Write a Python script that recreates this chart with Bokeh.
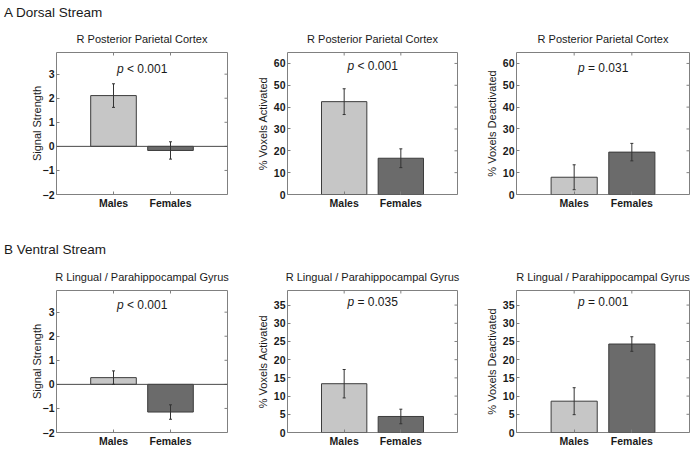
import math
from bokeh.plotting import figure
from bokeh.models import (Range1d, FixedTicker, Span, Whisker,
                          ColumnDataSource, Div, Label, TeeHead)
from bokeh.layouts import column, row
from bokeh.embed import file_html
from bokeh.resources import INLINE

# ---------------- data ----------------
groups = ["Males", "Females"]
bar_colors = ["#c6c6c6", "#6b6b6b"]

ss_dorsal = [2.11, -0.17]
ss_dorsal_err = [0.49, 0.36]
act_dorsal = [42.5, 16.6]
act_dorsal_err = [5.9, 4.3]
deact_dorsal = [7.9, 19.4]
deact_dorsal_err = [5.7, 4.0]

ss_ventral = [0.28, -1.15]
ss_ventral_err = [0.28, 0.30]
act_ventral = [13.4, 4.4]
act_ventral_err = [3.9, 2.0]
deact_ventral = [8.6, 24.3]
deact_ventral_err = [3.7, 2.0]

dorsal_title = "R Posterior Parietal Cortex"
ventral_title = "R Lingual / Parahippocampal Gyrus"
row_labels = ["A Dorsal Stream", "B Ventral Stream"]

y_labels = ["Signal Strength", "% Voxels Activated", "% Voxels Deactivated"]
ss_ticks = [-2, -1, 0, 1, 2, 3]
dorsal_pct_ticks = [0, 10, 20, 30, 40, 50, 60]
ventral_pct_ticks = [0, 5, 10, 15, 20, 25, 30, 35]
ss_range = (-2, 3.9)
dorsal_pct_range = (0, 65)
ventral_pct_range = (0, 39)

p_ops = ["<", "<", "=", "<", "=", "="]
p_vals = ["0.001", "0.001", "0.031", "0.001", "0.035", "0.001"]
p_ypos = [3.2, 59.0, 58.0, 3.3, 35.8, 35.8]

FONT = "Liberation Sans"
FRAME = "#808080"
TXT = "#1a1a1a"


def make_panel(title, vals, errs, ylabel, yrange, yticks, p_op, p_val, p_y,
               width, height, bl, br, bt, bb, lab_standoff):
    xs = [i + 1 for i in range(len(groups))]
    xmax = len(groups) + 1
    cx = xmax / 2
    p = figure(width=width, height=height, output_backend="svg",
               toolbar_location=None, x_range=Range1d(0, xmax),
               y_range=Range1d(*yrange),
               min_border_left=bl, min_border_right=br,
               min_border_top=bt, min_border_bottom=bb)
    p.background_fill_color = "white"
    p.border_fill_color = "white"
    p.outline_line_color = FRAME
    p.outline_line_width = 1
    p.xgrid.visible = False
    p.ygrid.visible = False

    p.title.text = title
    p.title.align = "center"
    p.title.vertical_align = "top"
    p.title.text_font = FONT
    p.title.text_font_size = "11px"
    p.title.text_font_style = "normal"
    p.title.text_color = TXT
    p.title.standoff = 11

    xa = p.xaxis[0]
    xa.ticker = FixedTicker(ticks=xs)
    xa.major_label_overrides = {x: g for x, g in zip(xs, groups)}
    ya = p.yaxis[0]
    ya.ticker = FixedTicker(ticks=yticks)
    ya.axis_label = ylabel
    ya.axis_label_text_font = FONT
    ya.axis_label_text_font_size = "11px"
    ya.axis_label_text_font_style = "normal"
    ya.axis_label_text_color = TXT
    ya.axis_label_standoff = lab_standoff
    for ax in (xa, ya):
        ax.axis_line_color = None
        ax.major_tick_in = 3
        ax.major_tick_out = 0
        ax.major_tick_line_color = FRAME
        ax.minor_tick_line_color = None
        ax.major_label_text_font = FONT
        ax.major_label_text_font_size = "10.5px"
        ax.major_label_text_font_style = "bold"
        ax.major_label_text_color = TXT
        ax.major_label_standoff = 2

    # mirrored inward ticks on right and top edges (clipped half-dashes)
    p.scatter(x=[xmax] * len(yticks), y=yticks, marker="dash", size=6,
              line_color=FRAME, line_width=1)
    p.scatter(x=xs, y=[yrange[1]] * len(xs), marker="dash", size=6,
              angle=math.pi / 2, line_color=FRAME, line_width=1)

    p.vbar(x=xs, top=vals, bottom=0, width=0.8, fill_color=bar_colors,
           line_color="#3c3c3c", line_width=1)

    if yrange[0] < 0:
        p.add_layout(Span(location=0, dimension="width",
                          line_color="#4a4a4a", line_width=1))

    src = ColumnDataSource(dict(
        x=xs,
        upper=[v + e for v, e in zip(vals, errs)],
        lower=[v - e for v, e in zip(vals, errs)],
    ))
    w = Whisker(source=src, base="x", upper="upper", lower="lower",
                line_color="#333333", line_width=1, level="overlay",
                upper_head=TeeHead(size=3, line_color="#333333", line_width=1),
                lower_head=TeeHead(size=3, line_color="#333333", line_width=1))
    p.add_layout(w)

    p.add_layout(Label(x=cx, y=p_y, text="p", x_offset=-25,
                       text_font=FONT, text_font_size="12px",
                       text_font_style="italic", text_color=TXT,
                       text_align="left", text_baseline="middle"))
    p.add_layout(Label(x=cx, y=p_y, text=f"{p_op} {p_val}", x_offset=-15,
                       text_font=FONT, text_font_size="12px",
                       text_color=TXT, text_align="left",
                       text_baseline="middle"))
    return p


def row_div(txt):
    return Div(text=txt, width=697, height=22, margin=(0, 0, 0, 0),
               styles={"font-family": FONT, "font-size": "13.5px",
                       "line-height": "25px", "color": TXT,
                       "padding-left": "4px",
                       "overflow": "visible", "white-space": "nowrap"})


H1 = 215
H2 = 203
f1 = make_panel(dorsal_title, ss_dorsal, ss_dorsal_err, y_labels[0], ss_range,
                ss_ticks, p_ops[0], p_vals[0], p_ypos[0], 238, H1, 56, 11, 30, 43, -3)
f2 = make_panel(dorsal_title, act_dorsal, act_dorsal_err, y_labels[1],
                dorsal_pct_range, dorsal_pct_ticks, p_ops[1], p_vals[1],
                p_ypos[1], 230, H1, 49, 11, 30, 32, 2)
f3 = make_panel(dorsal_title, deact_dorsal, deact_dorsal_err, y_labels[2],
                dorsal_pct_range, dorsal_pct_ticks, p_ops[2], p_vals[2],
                p_ypos[2], 229, H1, 48, 8, 30, 33, 2)
f4 = make_panel(ventral_title, ss_ventral, ss_ventral_err, y_labels[0],
                ss_range, ss_ticks, p_ops[3], p_vals[3], p_ypos[3],
                238, H2, 56, 11, 31, 30, -3)
f5 = make_panel(ventral_title, act_ventral, act_ventral_err, y_labels[1],
                ventral_pct_range, ventral_pct_ticks, p_ops[4], p_vals[4],
                p_ypos[4], 230, H2, 49, 11, 31, 19, 2)
f6 = make_panel(ventral_title, deact_ventral, deact_ventral_err, y_labels[2],
                ventral_pct_range, ventral_pct_ticks, p_ops[5], p_vals[5],
                p_ypos[5], 229, H2, 48, 8, 31, 20, 2)

layout = column(row_div(row_labels[0]), row(f1, f2, f3),
                row_div(row_labels[1]), row(f4, f5, f6))

open("out.html", "w").write(file_html(layout, INLINE))
